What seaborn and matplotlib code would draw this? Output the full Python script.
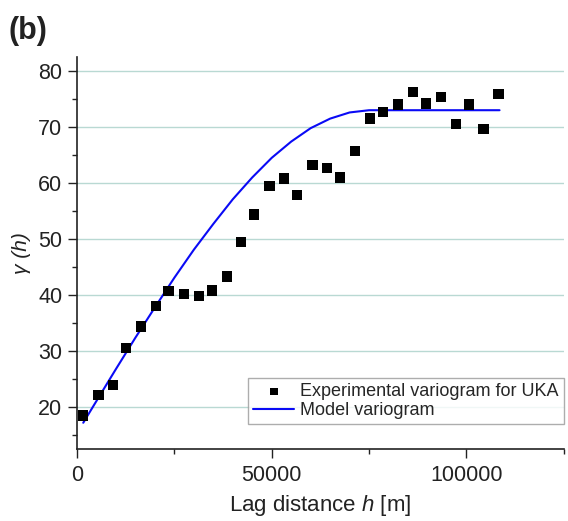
import numpy as np
import pandas as pd
import seaborn as sns
import matplotlib
matplotlib.use("Agg")
from matplotlib import pyplot as plt
from matplotlib.ticker import MultipleLocator

# experimental variogram points
lag_h = [1620, 5480, 9170, 12600, 16370, 20220, 23470, 27430, 31280, 34620,
         38470, 42160, 45500, 49440, 53210, 56560, 60450, 64270, 67530, 71470,
         75240, 78580, 82440, 86290, 89540, 93490, 97250, 100690, 104370, 108230]
gamma_exp = [18.5, 22.1, 23.9, 30.5, 34.4, 38.0, 40.7, 40.2, 39.8, 40.8,
             43.3, 49.5, 54.4, 59.5, 60.8, 57.9, 63.2, 62.7, 61.0, 65.7,
             71.5, 72.7, 74.0, 76.3, 74.2, 75.4, 70.5, 74.0, 69.6, 75.9]

# model variogram, sampled off the drawn curve
model_h = [1600, 5000, 10000, 15000, 20000, 25000, 30000, 35000, 40000, 45000,
           50000, 55000, 60000, 65000, 70000, 75000, 80000, 90000, 100000, 108500]
model_gamma = [17.2, 21.1, 26.8, 32.4, 37.8, 43.1, 48.1, 52.7, 57.1, 61.0,
               64.5, 67.4, 69.8, 71.5, 72.6, 73.0, 73.0, 73.0, 73.0, 73.0]

exp_df = pd.DataFrame({"h": lag_h, "gamma": gamma_exp})
model_df = pd.DataFrame({"h": model_h, "gamma": model_gamma})

sns.set_style("ticks")
plt.rcParams["font.family"] = ["Liberation Sans", "DejaVu Sans"]
plt.rcParams["mathtext.fontset"] = "custom"
plt.rcParams["mathtext.rm"] = "Liberation Sans"
plt.rcParams["mathtext.it"] = "Liberation Sans:italic"

fig = plt.figure(figsize=(5.68, 5.21), dpi=100)
ax = fig.add_axes([0.1356, 0.138, 0.857, 0.7526])

ax.grid(axis="y", which="major", color="#b9d9d3", linewidth=1.0)
ax.set_axisbelow(True)

sns.scatterplot(data=exp_df, x="h", y="gamma", marker="s", s=55, color="black",
                edgecolor="none", ax=ax, label="Experimental variogram for UKA", zorder=3)
sns.lineplot(data=model_df, x="h", y="gamma", color="#0a0af5", linewidth=1.5,
             ax=ax, label="Model variogram", zorder=2)

ax.set_xlim(0, 125000)
ax.set_ylim(12.5, 82.5)
ax.xaxis.set_major_locator(MultipleLocator(50000))
ax.xaxis.set_minor_locator(MultipleLocator(25000))
ax.yaxis.set_major_locator(MultipleLocator(10))
ax.yaxis.set_minor_locator(MultipleLocator(5))
ax.tick_params(which="major", length=6.5, width=1.0, labelsize=15.5, direction="out",
               colors="#222222", pad=4)
ax.tick_params(axis="x", which="major", pad=5)
ax.tick_params(which="minor", length=3.5, width=1.0, direction="out", colors="#222222")

sns.despine(ax=ax)
for sp in ["left", "bottom"]:
    ax.spines[sp].set_color("#222222")
    ax.spines[sp].set_linewidth(1.2)

ax.set_xlabel("Lag distance $h$ [m]", fontsize=16, labelpad=5, color="#222222")
ax.set_ylabel("γ (h)", fontsize=15, fontstyle="italic", labelpad=5, color="#222222")

leg = ax.legend(loc="lower right", bbox_to_anchor=(1.0, 0.063), fontsize=13.0,
                frameon=True, fancybox=False, borderpad=0.3, handlelength=2.3,
                handletextpad=0.3, labelspacing=0.1, markerscale=0.75, borderaxespad=0)
leg.get_frame().set_edgecolor("#999999")
leg.get_frame().set_linewidth(1.0)

fig.text(0.015, 0.925, "(b)", fontsize=22, fontweight="bold", color="#222222")

fig.savefig("out.png", dpi=100)
